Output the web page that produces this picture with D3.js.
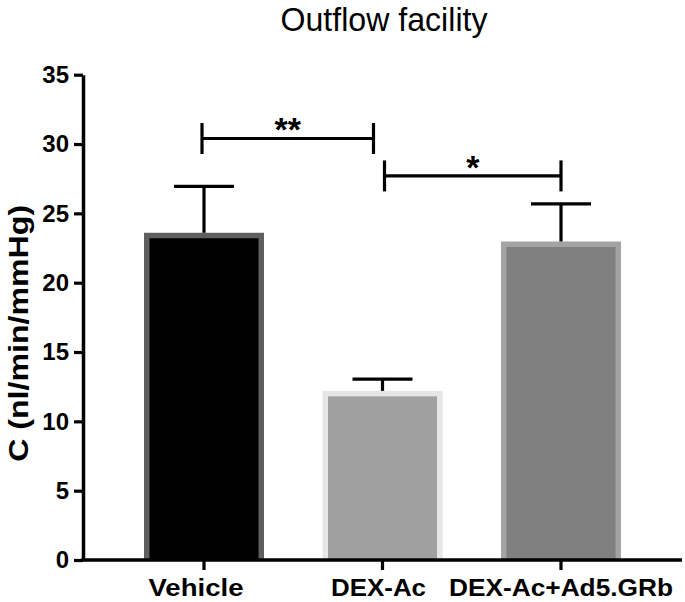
<!DOCTYPE html>
<html>
<head>
<meta charset="utf-8">
<script src="https://cdn.jsdelivr.net/npm/d3@7/dist/d3.min.js"></script>
<style>
  html, body { margin: 0; padding: 0; background: #fff; }
  svg { display: block; }
  text { font-family: "Liberation Sans", Arial, Helvetica, sans-serif; }
</style>
</head>
<body>
<svg id="chart" width="685" height="602"></svg>
<script>
// ---- data ----
const categories = ["Vehicle", "DEX-Ac", "DEX-Ac+Ad5.GRb"];
const means = [23.6, 12.2, 22.97];
const sems = [3.35, 0.85, 2.72];
const fillColors = ["#000000", "#a0a0a0", "#808080"];
const edgeColors = ["#5f5f5f", "#e6e6e6", "#a3a3a3"];
const yTicks = [0, 5, 10, 15, 20, 25, 30, 35];
const sigPairs = [["Vehicle", "DEX-Ac"], ["DEX-Ac", "DEX-Ac+Ad5.GRb"]];
const sigLevels = [30.4, 27.7];
const sigLabels = ["**", "*"];
const titleText = "Outflow facility";
const yTitle = "C (nl/min/mmHg)";

// ---- layout ----
const svg = d3.select("#chart");
const x0 = 83, x1 = 682, yBottom = 560, yTop = 74.7;

const x = d3.scaleBand().domain(categories).range([x0, x1])
  .paddingInner(0.3277).paddingOuter(0.3417);
const y = d3.scaleLinear().domain([0, 35]).range([yBottom, yTop]);

const edge = 5.5;
const bw = x.bandwidth();

// bars
const bars = svg.append("g");
categories.forEach((c, i) => {
  const bx = x(c), by = y(means[i]);
  bars.append("rect").attr("x", bx).attr("y", by)
    .attr("width", bw).attr("height", yBottom - by).attr("fill", edgeColors[i]);
  bars.append("rect").attr("x", bx + edge).attr("y", by + edge)
    .attr("width", bw - 2 * edge).attr("height", yBottom - by - edge).attr("fill", fillColors[i]);
});

// error bars (upper only)
const eb = svg.append("g").attr("stroke", "#000").attr("stroke-width", 3.2).attr("fill", "none");
categories.forEach((c, i) => {
  const cx = x(c) + bw / 2;
  const top = y(means[i] + sems[i]);
  eb.append("line").attr("x1", cx).attr("x2", cx).attr("y1", top).attr("y2", y(means[i]));
  eb.append("line").attr("x1", cx - 30).attr("x2", cx + 30).attr("y1", top).attr("y2", top);
});

// y axis
const yAxis = svg.append("g").attr("transform", `translate(${x0},0)`)
  .call(d3.axisLeft(y).tickValues(yTicks).tickSize(9).tickPadding(5).tickSizeOuter(0));
yAxis.select(".domain").attr("stroke", "#000").attr("stroke-width", 3.5);
yAxis.selectAll(".tick line").attr("stroke", "#000").attr("stroke-width", 3.2);
yAxis.selectAll(".tick text").attr("fill", "#000")
  .style("font-size", "24px").style("font-weight", "bold")
  .style("font-family", "'Liberation Sans', Arial, sans-serif");

// x axis
const xAxis = svg.append("g").attr("transform", `translate(0,${yBottom})`)
  .call(d3.axisBottom(x).tickSize(10).tickSizeOuter(0).tickFormat(""));
xAxis.select(".domain").attr("stroke", "#000").attr("stroke-width", 3.5)
  .attr("d", `M${x0 - 1.75},0H${x1}`);
xAxis.selectAll(".tick line").attr("stroke", "#000").attr("stroke-width", 3.2);

const labelWidths = [95, 95, 224];
const labelShift = [-8, -4, 0];
categories.forEach((c, i) => {
  svg.append("text")
    .attr("x", x(c) + bw / 2 + labelShift[i]).attr("y", 596)
    .attr("text-anchor", "middle")
    .attr("textLength", labelWidths[i]).attr("lengthAdjust", "spacingAndGlyphs")
    .style("font-size", "24px").style("font-weight", "bold")
    .text(c);
});

// significance brackets
const br = svg.append("g").attr("stroke", "#000").attr("stroke-width", 3.2).attr("fill", "none");
const startOff = [-2, 2], endOff = [-9, 0];
sigPairs.forEach((p, i) => {
  const xa = x(p[0]) + bw / 2 + startOff[i];
  const xb = x(p[1]) + bw / 2 + endOff[i];
  const yy = y(sigLevels[i]);
  br.append("line").attr("x1", xa).attr("x2", xb).attr("y1", yy).attr("y2", yy);
  br.append("line").attr("x1", xa).attr("x2", xa).attr("y1", yy - 15.5).attr("y2", yy + 15.5);
  br.append("line").attr("x1", xb).attr("x2", xb).attr("y1", yy - 15.5).attr("y2", yy + 15.5);
  svg.append("text").attr("x", (xa + xb) / 2).attr("y", yy + 3)
    .attr("text-anchor", "middle")
    .style("font-size", "34px").style("font-weight", "bold")
    .text(sigLabels[i]);
});

// title
svg.append("text").attr("x", 384).attr("y", 31)
  .attr("text-anchor", "middle")
  .attr("textLength", 207).attr("lengthAdjust", "spacingAndGlyphs")
  .style("font-size", "33px")
  .text(titleText);

// y title
svg.append("text")
  .attr("transform", `translate(28,${(yTop + yBottom) / 2 + 16}) rotate(-90)`)
  .attr("text-anchor", "middle")
  .attr("textLength", 257).attr("lengthAdjust", "spacingAndGlyphs")
  .style("font-size", "27px").style("font-weight", "bold")
  .text(yTitle);
</script>
</body>
</html>
